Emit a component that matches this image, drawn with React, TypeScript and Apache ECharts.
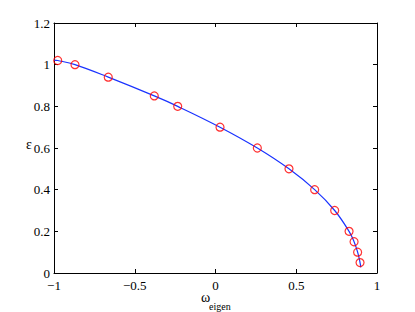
import React, { useEffect, useRef } from "react";
import * as echarts from "echarts";

const markerX = [-0.977, -0.87, -0.664, -0.379, -0.234, 0.028, 0.259, 0.455, 0.614, 0.738, 0.827, 0.858, 0.88, 0.895];
const markerY = [1.02, 1.0, 0.94, 0.85, 0.8, 0.7, 0.6, 0.5, 0.4, 0.3, 0.2, 0.15, 0.1, 0.05];
const curveX = [-1.0, -0.977, -0.87, -0.664, -0.379, -0.234, 0.028, 0.259, 0.455, 0.614, 0.738, 0.827, 0.858, 0.88, 0.895, 0.9];
const curveY = [1.022, 1.02, 1.0, 0.94, 0.85, 0.8, 0.7, 0.6, 0.5, 0.4, 0.3, 0.2, 0.15, 0.1, 0.05, 0.027];
const xTicks = [-1, -0.5, 0, 0.5, 1];
const yTicks = [0, 0.2, 0.4, 0.6, 0.8, 1, 1.2];

const FONT = "'Liberation Serif', 'Times New Roman', serif";

const fmt = (v: number) => {
  const s = String(Math.round(v * 10) / 10);
  return s.replace("-", "\u2212");
};

export default function App() {
  const ref = useRef<HTMLDivElement>(null);
  useEffect(() => {
    if (!ref.current) return;
    const chart = echarts.init(ref.current, undefined, { renderer: "svg" });
    const axisCommon = {
      type: "value" as const,
      axisLine: { show: true, onZero: false, lineStyle: { color: "#000", width: 1 } },
      axisTick: { show: true, inside: true, length: 4, lineStyle: { color: "#000" } },
      splitLine: { show: false },
    };
    chart.setOption({
      animation: false,
      backgroundColor: "#fff",
      grid: { left: 54, right: 38, top: 23, bottom: 39 },
      xAxis: [
        {
          ...axisCommon,
          position: "bottom",
          min: xTicks[0],
          max: xTicks[xTicks.length - 1],
          interval: 0.5,
          axisLabel: { color: "#000", fontFamily: FONT, fontSize: 13, margin: 6, formatter: fmt },
        },
        {
          ...axisCommon,
          position: "top",
          min: xTicks[0],
          max: xTicks[xTicks.length - 1],
          interval: 0.5,
          axisLabel: { show: false },
        },
      ],
      yAxis: [
        {
          ...axisCommon,
          position: "left",
          min: yTicks[0],
          max: yTicks[yTicks.length - 1],
          interval: 0.2,
          axisLabel: { color: "#000", fontFamily: FONT, fontSize: 13, margin: 4, formatter: fmt },
        },
        {
          ...axisCommon,
          position: "right",
          min: yTicks[0],
          max: yTicks[yTicks.length - 1],
          interval: 0.2,
          axisLabel: { show: false },
        },
      ],
      graphic: [
        { type: "text", left: 26, top: 137, style: { text: "ε", fontFamily: FONT, fontSize: 14, fill: "#000" } },
        { type: "text", left: 201, top: 290, style: { text: "ω", fontFamily: FONT, fontSize: 14, fill: "#000" } },
        { type: "text", left: 209, top: 301, style: { text: "eigen", fontFamily: FONT, fontSize: 10, fill: "#000" } },
      ],
      series: [
        {
          type: "line",
          data: curveX.map((x, i) => [x, curveY[i]]),
          smooth: 0.4,
          showSymbol: false,
          lineStyle: { color: "#1a33ff", width: 1.2 },
          clip: true,
          z: 2,
        },
        {
          type: "scatter",
          data: markerX.map((x, i) => [x, markerY[i]]),
          symbol: "circle",
          symbolSize: 8,
          itemStyle: { color: "none", borderColor: "#ff0000", borderWidth: 1.2 },
          z: 3,
        },
      ],
    });
    return () => chart.dispose();
  }, []);
  return <div ref={ref} style={{ position: "fixed", left: 0, top: 0, width: 415, height: 312 }} />;
}
